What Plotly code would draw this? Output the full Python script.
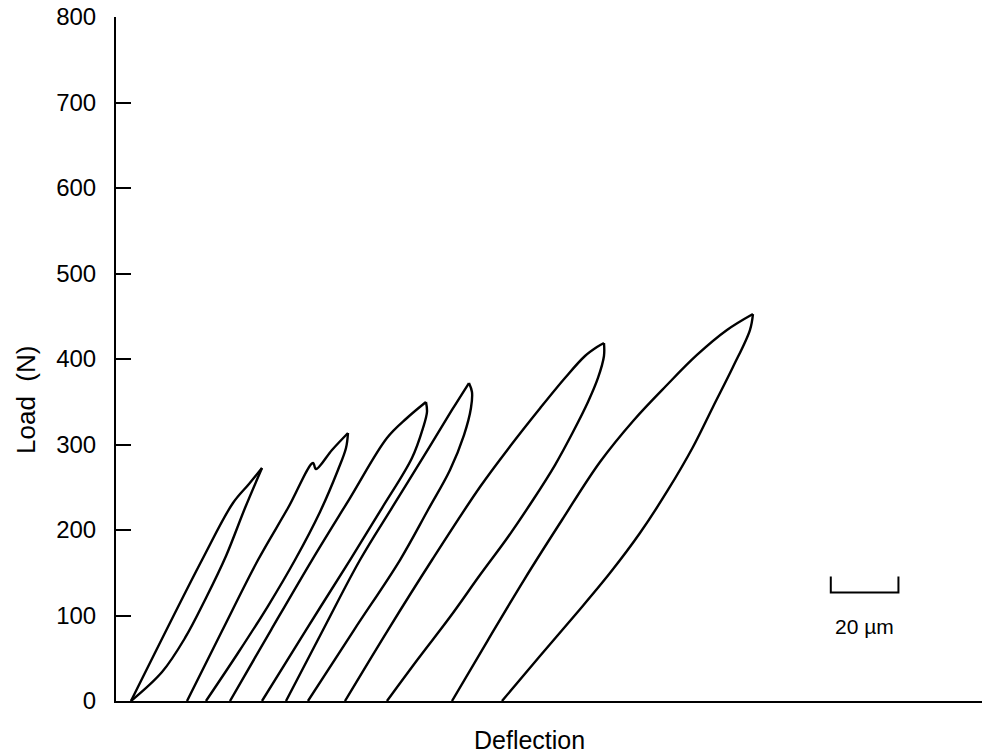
import plotly.graph_objects as go

# ---- data (deflection in micrometres, load in newtons) ----
loop1_load_x = [4.43, 25.42, 34.58, 39.31, 43.16]
loop1_load_y = [0.0, 164.9, 231.6, 253.8, 272.5]
loop1_unload_x = [43.16, 38.13, 32.52, 26.60, 20.40, 13.60, 4.43]
loop1_unload_y = [272.5, 225.7, 169.6, 120.5, 73.7, 33.9, 0.0]

loop2_load_x = [20.99, 31.33, 41.97, 50.84, 58.23, 59.12, 63.85, 68.58]
loop2_load_y = [0.0, 81.9, 164.9, 225.7, 278.4, 271.3, 293.6, 313.5]
loop2_unload_x = [68.58, 67.99, 65.62, 60.30, 52.91, 44.93, 36.06, 26.60]
loop2_unload_y = [313.5, 295.9, 270.2, 221.1, 164.9, 111.1, 56.1, 0.0]

loop3_load_x = [33.70, 45.82, 57.94, 69.17, 80.10, 86.02, 91.63]
loop3_load_y = [0.0, 83.0, 164.9, 237.4, 307.6, 331.0, 349.7]
loop3_unload_x = [91.63, 91.93, 90.75, 87.49, 78.63, 69.17, 56.16, 43.16]
loop3_unload_y = [349.7, 338.0, 319.3, 284.2, 225.7, 164.9, 83.0, 0.0]

loop4_load_x = [50.25, 61.19, 72.12, 82.47, 92.82, 99.32, 104.34]
loop4_load_y = [0.0, 83.0, 164.9, 231.6, 298.2, 340.4, 371.9]
loop4_unload_x = [104.34, 105.23, 104.93, 102.87, 98.73, 92.22, 83.95, 70.35, 56.75]
loop4_unload_y = [371.9, 361.4, 342.7, 311.1, 270.2, 223.4, 164.9, 83.0, 0.0]

loop5_load_x = [67.69, 80.40, 93.41, 107.59, 116.56, 125.42, 132.72, 138.64, 142.18, 144.25]
loop5_load_y = [0.0, 83.0, 164.9, 250.3, 298.2, 342.7, 377.8, 403.5, 414.0, 418.7]
loop5_unload_x = [144.25, 144.25, 142.48, 139.52, 135.09, 129.77, 123.26, 115.87, 107.59, 98.73, 89.27, 80.10]
loop5_unload_y = [418.7, 403.5, 377.8, 349.7, 314.6, 276.0, 235.1, 191.8, 147.3, 98.2, 49.1, 0.0]

loop6_load_x = [99.32, 109.96, 120.60, 131.84, 143.07, 153.12, 162.57, 171.74, 180.61, 188.29]
loop6_load_y = [0.0, 71.3, 141.5, 211.7, 279.5, 328.7, 368.4, 404.7, 433.9, 452.6]
loop6_unload_x = [188.29, 187.40, 182.38, 176.47, 170.56, 163.17, 154.89, 146.02, 135.97, 125.33, 114.10]
loop6_unload_y = [452.6, 433.9, 390.6, 343.9, 297.1, 246.8, 196.5, 149.7, 101.8, 52.6, 0.0]

y_ticks = [0, 100, 200, 300, 400, 500, 600, 700, 800]
y_tick_labels = ["0", "100", "200", "300", "400", "500", "600", "700", "800"]

scale_bar_len = 20          # micrometres
scale_bar_label = "20 \u00b5m"

# ---- layout constants ----
X_MAX = 256.0
SB_X0 = 211.3
SB_Y_LOW = 127.0
SB_Y_HIGH = 145.5
SB_TEXT_Y = 87.0
FONT = "Liberation Sans, Arial, Helvetica, sans-serif"
W, H = 982, 754
ML, MR, MT, MB = 116, 0, 17, 53

curves = [
    (loop1_load_x, loop1_load_y), (loop1_unload_x, loop1_unload_y),
    (loop2_load_x, loop2_load_y), (loop2_unload_x, loop2_unload_y),
    (loop3_load_x, loop3_load_y), (loop3_unload_x, loop3_unload_y),
    (loop4_load_x, loop4_load_y), (loop4_unload_x, loop4_unload_y),
    (loop5_load_x, loop5_load_y), (loop5_unload_x, loop5_unload_y),
    (loop6_load_x, loop6_load_y), (loop6_unload_x, loop6_unload_y),
]

fig = go.Figure()
for cx, cy in curves:
    fig.add_trace(go.Scatter(
        x=cx, y=cy, mode="lines",
        line=dict(color="black", width=2.4, shape="spline", smoothing=1.0),
        hoverinfo="skip", showlegend=False,
    ))

# scale bar
sb_x1 = SB_X0 + scale_bar_len
fig.add_shape(
    type="path",
    path=f"M {SB_X0} {SB_Y_HIGH} L {SB_X0} {SB_Y_LOW} L {sb_x1} {SB_Y_LOW} L {sb_x1} {SB_Y_HIGH}",
    xref="x", yref="y", line=dict(color="black", width=2),
)
fig.add_annotation(
    x=SB_X0 + scale_bar_len / 2, y=SB_TEXT_Y, xref="x", yref="y",
    text=scale_bar_label, showarrow=False,
    font=dict(family=FONT, size=21, color="black"),
)

pw = W - ML - MR
ph = H - MT - MB


def paper_x(px):
    return (px - ML) / pw


def paper_y(py):
    return (H - MB - py) / ph


# axis titles
fig.add_annotation(
    x=paper_x(529), y=paper_y(740), xref="paper", yref="paper",
    xanchor="center", yanchor="middle", text="Deflection", showarrow=False,
    font=dict(family=FONT, size=25, color="black"),
)
fig.add_annotation(
    x=paper_x(26), y=paper_y(400), xref="paper", yref="paper",
    xanchor="center", yanchor="middle", text="Load  (N)", showarrow=False,
    textangle=-90, font=dict(family=FONT, size=26, color="black"),
)

fig.update_layout(
    width=W, height=H, autosize=False,
    margin=dict(l=ML, r=MR, t=MT, b=MB),
    plot_bgcolor="white", paper_bgcolor="white",
    showlegend=False, hovermode=False,
)
fig.update_xaxes(
    range=[0, X_MAX], showline=True, linecolor="black", linewidth=2,
    showticklabels=False, ticks="", showgrid=False, zeroline=False,
)
fig.update_yaxes(
    range=[0, 800], showline=True, linecolor="black", linewidth=2,
    tickmode="array", tickvals=y_ticks, ticktext=y_tick_labels,
    ticks="inside", ticklen=15, tickwidth=2, tickcolor="black",
    ticklabelstandoff=13,
    tickfont=dict(family=FONT, size=24, color="black"),
    showgrid=False, zeroline=False,
)

fig.write_html(
    "out.html",
    config={"responsive": False, "displayModeBar": False},
    post_script="document.body.style.margin='0px';document.body.style.padding='0px';",
)
